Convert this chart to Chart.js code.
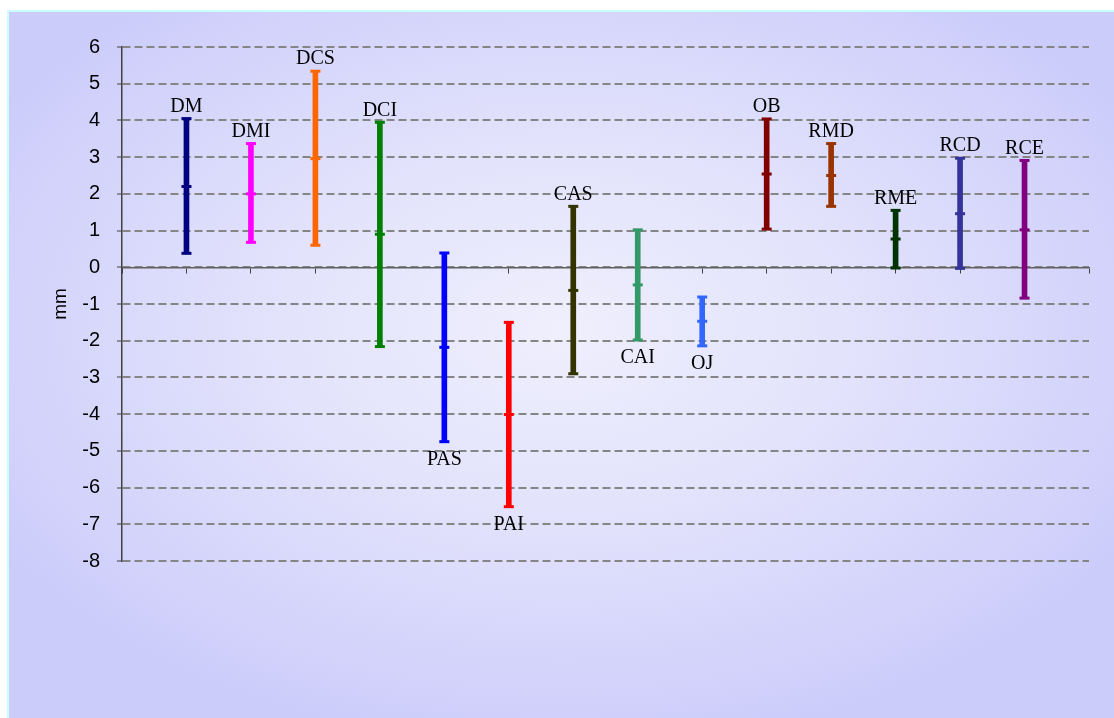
<!DOCTYPE html>
<html>
<head>
<meta charset="utf-8">
<title>mm range chart</title>
<script src="https://cdn.jsdelivr.net/npm/chart.js@4/dist/chart.umd.min.js"></script>
<style>
  html, body { margin: 0; padding: 0; background: #fff; }
  #frame {
    position: absolute; left: 7px; top: 10px; width: 1105px; height: 706px;
    border-left: 2px solid #ccffff; border-top: 2px solid #ccffff;
    background: radial-gradient(ellipse 60% 60% at 50% 45%, #efeffd 0%, #e2e2fc 45%, #ccccfb 100%);
  }
  #wrap { position: absolute; left: 0; top: 0; width: 1114px; height: 718px; }
</style>
</head>
<body>
<div id="frame"></div>
<div id="wrap"><canvas id="chart" width="1114" height="718"></canvas></div>
<script>
// measured ranges (mm): max / mean / min per landmark
const categories = ['DM', 'DMI', 'DCS', 'DCI', 'PAS', 'PAI', 'CAS', 'CAI', 'OJ', 'OB', 'RMD', 'RME', 'RCD', 'RCE'];
const maxValues  = [4.05, 3.37, 5.34, 3.95, 0.39, -1.50, 1.66, 1.02, -0.81, 4.04, 3.37, 1.55, 2.97, 2.91];
const meanValues = [2.20, 2.00, 2.96, 0.90, -2.18, -4.01, -0.63, -0.48, -1.47, 2.54, 2.50, 0.77, 1.46, 1.02];
const minValues  = [0.38, 0.68, 0.60, -2.16, -4.75, -6.52, -2.90, -1.98, -2.14, 1.04, 1.66, -0.02, -0.03, -0.84];
const yTicks = [-8, -7, -6, -5, -4, -3, -2, -1, 0, 1, 2, 3, 4, 5, 6];

const colors = ['#000080', '#ff00ff', '#ff6600', '#008000', '#0000ff', '#ff0000', '#333300',
                '#339966', '#3366ff', '#800000', '#993300', '#003300', '#333399', '#800080'];
// which side of the bar the name goes on
const labelSide = ['top', 'top', 'top', 'top', 'bottom', 'bottom', 'top', 'bottom', 'bottom',
                   'top', 'top', 'top', 'top', 'top'];

// empty slot at each end of the category axis
const slots = ['', ...categories, ''];
const pad = arr => [null, ...arr, null];
const padColors = pad(colors).map(c => c || 'transparent');

const nameLabels = {
  id: 'nameLabels',
  afterDatasetsDraw(chart) {
    const { ctx, scales: { x, y } } = chart;
    ctx.save();
    ctx.font = '20px "Liberation Serif", "Times New Roman", serif';
    ctx.fillStyle = '#000';
    ctx.textAlign = 'center';
    ctx.textBaseline = 'middle';
    categories.forEach((name, i) => {
      const px = x.getPixelForValue(i + 1);
      if (labelSide[i] === 'top') {
        ctx.fillText(name, px, y.getPixelForValue(maxValues[i]) - 12);
      } else {
        ctx.fillText(name, px, y.getPixelForValue(minValues[i]) + 18);
      }
    });
    ctx.restore();
  }
};

function pointSet(values) {
  return {
    type: 'line',
    data: pad(values),
    showLine: false,
    pointStyle: 'line',
    pointRadius: 5,
    pointHoverRadius: 5,
    pointBorderWidth: 3,
    pointBorderColor: padColors,
    pointBackgroundColor: padColors
  };
}

new Chart(document.getElementById('chart'), {
  type: 'bar',
  data: {
    labels: slots,
    datasets: [
      {
        data: pad(categories.map((_, i) => [minValues[i], maxValues[i]])),
        backgroundColor: padColors,
        barThickness: 5,
        grouped: false
      },
      pointSet(maxValues),
      pointSet(meanValues),
      pointSet(minValues)
    ]
  },
  plugins: [nameLabels],
  options: {
    responsive: false,
    animation: false,
    layout: { padding: { left: 45, top: 47, right: 25, bottom: 157 } },
    plugins: { legend: { display: false }, tooltip: { enabled: false } },
    scales: {
      x: {
        position: { y: 0 },
        offset: false,
        grid: { offset: false, drawOnChartArea: false, tickLength: 5, color: '#404040', lineWidth: 1 },
        border: { color: '#606060', width: 1.5 },
        ticks: { display: false }
      },
      y: {
        min: -8,
        max: 6,
        afterBuildTicks: axis => { axis.ticks = yTicks.map(v => ({ value: v })); },
        afterFit: axis => { axis.width = 77; },
        grid: { color: '#858585', lineWidth: 2, tickLength: 5, tickColor: '#404040', tickWidth: 1, tickBorderDash: [] },
        border: { dash: [8, 4], color: '#404040', width: 1.5 },
        ticks: {
          color: '#000',
          padding: 17,
          font: { family: '"Liberation Sans", Arial, sans-serif', size: 20 }
        },
        title: {
          display: true,
          text: 'mm',
          color: '#000',
          font: { family: '"Liberation Sans", Arial, sans-serif', size: 19 }
        }
      }
    }
  }
});
</script>
</body>
</html>
